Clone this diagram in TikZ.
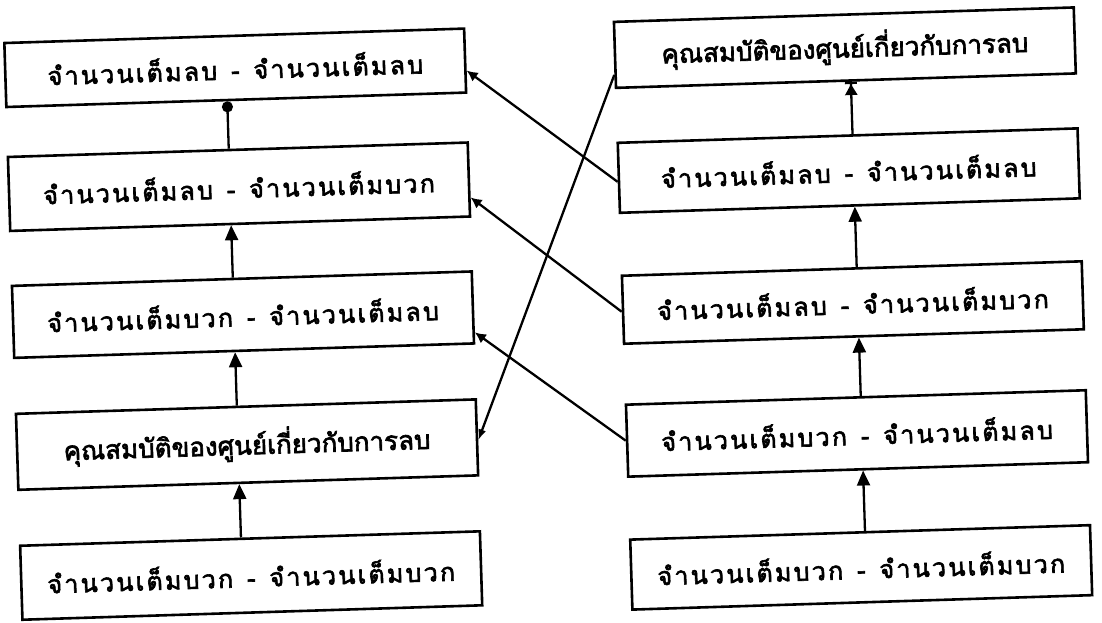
\documentclass[tikz,border=0pt]{standalone}
\usepackage{fontspec}
\newfontfamily\thaisp[Script=Thai,FakeBold=2.5,LetterSpace=9]{Loma}
\newfontfamily\thaicd[Script=Thai,FakeBold=2.5]{Loma}
\usetikzlibrary{arrows.meta,calc}
\newcommand{\dsh}{\hspace{14pt}-\hspace{14pt}}
\begin{document}
\begin{tikzpicture}[x=1pt,y=-1pt,
  box/.style={draw, line width=2.6pt, minimum width=460pt, inner sep=0pt,
    font=\thaisp\fontsize{25}{28}\selectfont},
  prop/.style={box, font=\thaicd\fontsize{26}{28}\selectfont},
  conn/.style={line width=2.3pt},
  up/.style={conn, -{Triangle[length=15pt,width=13pt]}},
  cross/.style={conn, -{Latex[length=11pt,width=11pt]}}]
\useasboundingbox (0,0) rectangle (1102,623);
\fill[white] (0,0) rectangle (1102,623);
\begin{scope}[rotate around={1.8:(551,311)}, transform shape]
  \node[box, minimum height=64pt] (L1) at (243,58)  {จำนวนเต็มลบ\dsh จำนวนเต็มลบ};
  \node[box, minimum height=74pt] (L2) at (243,177) {จำนวนเต็มลบ\dsh จำนวนเต็มบวก};
  \node[box, minimum height=72pt] (L3) at (243,305) {จำนวนเต็มบวก\dsh จำนวนเต็มลบ};
  \node[prop, minimum height=76pt] (L4) at (243,435) {คุณสมบัติของศูนย์เกี่ยวกับการลบ};
  \node[box, minimum height=74pt] (L5) at (243,566) {จำนวนเต็มบวก\dsh จำนวนเต็มบวก};
  \node[prop, minimum height=66pt] (R1) at (853,57)  {คุณสมบัติของศูนย์เกี่ยวกับการลบ};
  \node[box, minimum height=70pt] (R2) at (853,180) {จำนวนเต็มลบ\dsh จำนวนเต็มลบ};
  \node[box, minimum height=68pt] (R3) at (853,312) {จำนวนเต็มลบ\dsh จำนวนเต็มบวก};
  \node[box, minimum height=72pt] (R4) at (853,443) {จำนวนเต็มบวก\dsh จำนวนเต็มลบ};
  \node[box, minimum height=70pt] (R5) at (853,577) {จำนวนเต็มบวก\dsh จำนวนเต็มบวก};
  \coordinate (lx) at (234,0);
  \coordinate (rx) at (858,0);
  \draw[conn, -{Circle[length=11pt]}] (L2.north -| lx) -- (L1.south -| lx);
  \draw[up] (L3.north -| lx) -- (L2.south -| lx);
  \draw[up] (L4.north -| lx) -- (L3.south -| lx);
  \draw[up] (L5.north -| lx) -- (L4.south -| lx);
  \draw[conn, -{Triangle[length=11pt,width=12pt]Bar[width=12pt]}] (R2.north -| rx) -- (R1.south -| rx);
  \draw[up] (R3.north -| rx) -- (R2.south -| rx);
  \draw[up] (R4.north -| rx) -- (R3.south -| rx);
  \draw[up] (R5.north -| rx) -- (R4.south -| rx);
  \draw[cross] ($(R2.west)+(0,4)$) -- ($(L1.east)+(0,10)$);
  \draw[cross] ($(R3.west)+(0,2)$) -- ($(L2.east)+(0,18)$);
  \draw[cross] (R4.west) -- ($(L3.east)+(0,25)$);
  \draw[conn, -{Latex[length=11pt,width=8pt]}] ($(R1.west)+(0,20)$) -- ($(L4.east)+(0,3)$);
\end{scope}
\end{tikzpicture}
\end{document}
